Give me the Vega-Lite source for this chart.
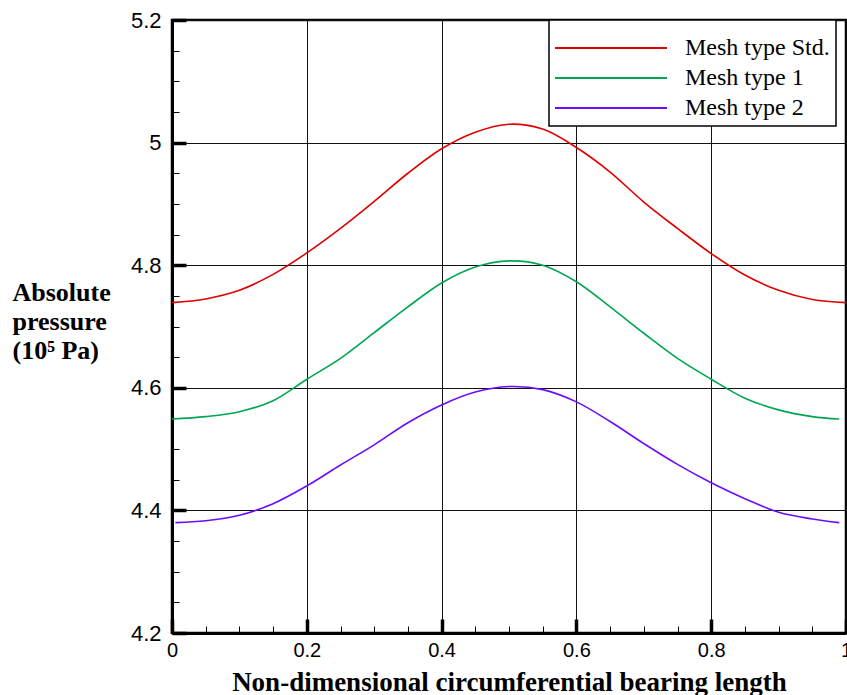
{
  "$schema": "https://vega.github.io/schema/vega-lite/v6.json",
  "width": 674,
  "height": 613,
  "autosize": {"type": "none"},
  "padding": {"left": 172, "top": 20, "right": 1, "bottom": 62},
  "background": "white",
  "data": {
    "values": [
      {"series": "Mesh type Std.", "x": 0, "y": 4.739},
      {"series": "Mesh type Std.", "x": 0.05, "y": 4.745},
      {"series": "Mesh type Std.", "x": 0.1, "y": 4.759},
      {"series": "Mesh type Std.", "x": 0.15, "y": 4.785},
      {"series": "Mesh type Std.", "x": 0.2, "y": 4.82},
      {"series": "Mesh type Std.", "x": 0.25, "y": 4.86},
      {"series": "Mesh type Std.", "x": 0.3, "y": 4.904},
      {"series": "Mesh type Std.", "x": 0.35, "y": 4.95},
      {"series": "Mesh type Std.", "x": 0.4, "y": 4.99},
      {"series": "Mesh type Std.", "x": 0.45, "y": 5.017},
      {"series": "Mesh type Std.", "x": 0.5, "y": 5.03},
      {"series": "Mesh type Std.", "x": 0.55, "y": 5.022},
      {"series": "Mesh type Std.", "x": 0.6, "y": 4.992},
      {"series": "Mesh type Std.", "x": 0.65, "y": 4.952},
      {"series": "Mesh type Std.", "x": 0.7, "y": 4.903},
      {"series": "Mesh type Std.", "x": 0.75, "y": 4.86},
      {"series": "Mesh type Std.", "x": 0.8, "y": 4.819},
      {"series": "Mesh type Std.", "x": 0.85, "y": 4.784},
      {"series": "Mesh type Std.", "x": 0.9, "y": 4.759},
      {"series": "Mesh type Std.", "x": 0.95, "y": 4.744},
      {"series": "Mesh type Std.", "x": 1, "y": 4.739},
      {"series": "Mesh type 1", "x": 0, "y": 4.549},
      {"series": "Mesh type 1", "x": 0.05, "y": 4.553},
      {"series": "Mesh type 1", "x": 0.1, "y": 4.561},
      {"series": "Mesh type 1", "x": 0.15, "y": 4.579},
      {"series": "Mesh type 1", "x": 0.2, "y": 4.614},
      {"series": "Mesh type 1", "x": 0.25, "y": 4.648},
      {"series": "Mesh type 1", "x": 0.3, "y": 4.69},
      {"series": "Mesh type 1", "x": 0.35, "y": 4.732},
      {"series": "Mesh type 1", "x": 0.4, "y": 4.771},
      {"series": "Mesh type 1", "x": 0.45, "y": 4.797},
      {"series": "Mesh type 1", "x": 0.5, "y": 4.807},
      {"series": "Mesh type 1", "x": 0.55, "y": 4.8},
      {"series": "Mesh type 1", "x": 0.6, "y": 4.773},
      {"series": "Mesh type 1", "x": 0.65, "y": 4.732},
      {"series": "Mesh type 1", "x": 0.7, "y": 4.689},
      {"series": "Mesh type 1", "x": 0.75, "y": 4.648},
      {"series": "Mesh type 1", "x": 0.8, "y": 4.614},
      {"series": "Mesh type 1", "x": 0.85, "y": 4.583},
      {"series": "Mesh type 1", "x": 0.9, "y": 4.564},
      {"series": "Mesh type 1", "x": 0.95, "y": 4.553},
      {"series": "Mesh type 1", "x": 0.99, "y": 4.549},
      {"series": "Mesh type 2", "x": 0.005, "y": 4.38},
      {"series": "Mesh type 2", "x": 0.05, "y": 4.383},
      {"series": "Mesh type 2", "x": 0.1, "y": 4.392},
      {"series": "Mesh type 2", "x": 0.15, "y": 4.411},
      {"series": "Mesh type 2", "x": 0.2, "y": 4.44},
      {"series": "Mesh type 2", "x": 0.25, "y": 4.474},
      {"series": "Mesh type 2", "x": 0.3, "y": 4.507},
      {"series": "Mesh type 2", "x": 0.35, "y": 4.543},
      {"series": "Mesh type 2", "x": 0.4, "y": 4.572},
      {"series": "Mesh type 2", "x": 0.45, "y": 4.593},
      {"series": "Mesh type 2", "x": 0.5, "y": 4.602},
      {"series": "Mesh type 2", "x": 0.55, "y": 4.597},
      {"series": "Mesh type 2", "x": 0.6, "y": 4.577},
      {"series": "Mesh type 2", "x": 0.65, "y": 4.545},
      {"series": "Mesh type 2", "x": 0.7, "y": 4.509},
      {"series": "Mesh type 2", "x": 0.75, "y": 4.475},
      {"series": "Mesh type 2", "x": 0.8, "y": 4.445},
      {"series": "Mesh type 2", "x": 0.85, "y": 4.419},
      {"series": "Mesh type 2", "x": 0.9, "y": 4.397},
      {"series": "Mesh type 2", "x": 0.95, "y": 4.386},
      {"series": "Mesh type 2", "x": 0.99, "y": 4.38}
    ]
  },
  "layer": [
    {
      "mark": {"type": "line", "strokeWidth": 1.6, "interpolate": "catmull-rom"},
      "encoding": {
        "x": {
          "field": "x",
          "type": "quantitative",
          "scale": {"domain": [0, 1], "nice": false},
          "axis": {
            "orient": "bottom",
            "values": [0, 0.2, 0.4, 0.6, 0.8, 1],
            "format": ".1~f",
            "grid": true,
            "gridColor": "#111111",
            "gridWidth": 1,
            "gridOpacity": 1,
            "domain": true,
            "domainColor": "black",
            "domainWidth": 3,
            "ticks": true,
            "tickColor": "black",
            "tickSize": -14,
            "tickWidth": 3.5,
            "labelFont": "Liberation Sans",
            "labelFontSize": 20,
            "labelColor": "black",
            "labelPadding": 21.5,
            "labelBaseline": "top",
            "labelFlush": false,
            "labelOverlap": false,
            "labelBound": false,
            "title": "Non-dimensional circumferential bearing length",
            "titleFont": "Liberation Serif",
            "titleFontSize": 27,
            "titleFontWeight": "bold",
            "titleColor": "black",
            "titleAlign": "center",
            "titleBaseline": "alphabetic",
            "titleX": 337,
            "titleY": 57
          }
        },
        "y": {
          "field": "y",
          "type": "quantitative",
          "scale": {"domain": [4.2, 5.2], "nice": false, "zero": false},
          "axis": {
            "orient": "left",
            "values": [4.2, 4.4, 4.6, 4.8, 5, 5.2],
            "format": ".1~f",
            "grid": true,
            "gridColor": "#111111",
            "gridWidth": 1,
            "gridOpacity": 1,
            "domain": true,
            "domainColor": "black",
            "domainWidth": 3,
            "ticks": true,
            "tickColor": "black",
            "tickSize": -14,
            "tickWidth": 3.5,
            "labelFont": "Liberation Sans",
            "labelFontSize": 22,
            "labelColor": "black",
            "labelPadding": 25,
            "labelAlign": "right",
            "labelBaseline": "middle",
            "labelFlush": false,
            "labelOverlap": false,
            "labelBound": false,
            "title": ["Absolute", "pressure", "(10⁵ Pa)"],
            "titleFont": "Liberation Serif",
            "titleFontSize": 26,
            "titleFontWeight": "bold",
            "titleColor": "black",
            "titleAngle": 0,
            "titleAlign": "left",
            "titleBaseline": "alphabetic",
            "titleLineHeight": 29,
            "titleX": -160,
            "titleY": 280
          }
        },
        "color": {
          "field": "series",
          "type": "nominal",
          "scale": {
            "domain": ["Mesh type Std.", "Mesh type 1", "Mesh type 2"],
            "range": ["#e00000", "#00a651", "#6a0dff"]
          },
          "legend": {
            "orient": "none",
            "legendX": 377,
            "legendY": 0,
            "title": " ",
            "titleFontSize": 5,
            "titlePadding": 5,
            "padding": 6,
            "fillColor": "white",
            "strokeColor": "black",
            "symbolType": "M-5.6,0H5.6",
            "symbolSize": 400,
            "symbolStrokeWidth": 2,
            "symbolOffset": 44,
            "labelFont": "Liberation Serif",
            "labelFontSize": 24,
            "labelColor": "black",
            "labelOffset": 62,
            "labelLimit": 400,
            "rowPadding": 6
          }
        }
      }
    },
    {
      "mark": {"type": "line", "strokeOpacity": 0},
      "encoding": {
        "x": {
          "field": "x",
          "type": "quantitative",
          "scale": {"domain": [0, 1], "nice": false},
          "axis": {
            "orient": "bottom",
            "values": [0.05, 0.1, 0.15, 0.25, 0.3, 0.35, 0.45, 0.5, 0.55, 0.65, 0.7, 0.75, 0.85, 0.9, 0.95],
            "labels": false,
            "grid": false,
            "domain": false,
            "ticks": true,
            "tickColor": "black",
            "tickSize": -7,
            "tickWidth": 1,
            "title": null
          }
        },
        "y": {
          "field": "y",
          "type": "quantitative",
          "scale": {"domain": [4.2, 5.2], "nice": false, "zero": false},
          "axis": {
            "orient": "left",
            "values": [4.25, 4.3, 4.35, 4.45, 4.5, 4.55, 4.65, 4.7, 4.75, 4.85, 4.9, 4.95, 5.05, 5.1, 5.15],
            "labels": false,
            "grid": false,
            "domain": false,
            "ticks": true,
            "tickColor": "black",
            "tickSize": -7,
            "tickWidth": 1,
            "title": null
          }
        }
      }
    }
  ],
  "resolve": {"axis": {"x": "independent", "y": "independent"}},
  "config": {
    "view": {"stroke": "black", "strokeWidth": 2.5},
    "axis": {"gridCap": "butt"},
    "legend": {"strokeWidth": 1.5}
  }
}
